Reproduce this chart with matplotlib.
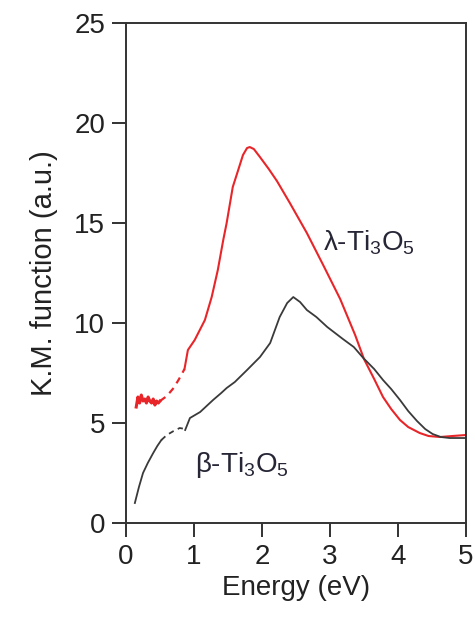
import matplotlib
matplotlib.use("Agg")
import matplotlib.pyplot as plt

plt.rcParams['font.family'] = ['Liberation Sans', 'DejaVu Sans']
plt.rcParams['mathtext.fontset'] = 'custom'
plt.rcParams['mathtext.rm'] = 'Liberation Sans'
plt.rcParams['mathtext.it'] = 'Liberation Sans'

# lambda-Ti3O5 (red)
lam_noisy_E = [0.15, 0.175, 0.2, 0.225, 0.25, 0.275, 0.3, 0.325, 0.35, 0.375, 0.4, 0.425, 0.45, 0.475, 0.5]
lam_noisy_K = [5.8, 6.3, 6.0, 6.4, 6.1, 6.2, 6.0, 6.3, 6.1, 6.0, 6.2, 5.9, 6.1, 6.0, 6.1]
lam_dash_E = [0.5, 0.6, 0.7, 0.78, 0.86]
lam_dash_K = [6.1, 6.35, 6.75, 7.2, 7.7]
lam_E = [0.86, 0.91, 1.01, 1.16, 1.26, 1.35, 1.43, 1.48, 1.57, 1.65, 1.72, 1.78, 1.82, 1.88, 1.97, 2.1, 2.22,
         2.41, 2.66, 2.9, 3.15, 3.37, 3.5, 3.65, 3.78, 3.9, 4.03, 4.15, 4.32, 4.45, 4.62, 4.8, 5.0]
lam_K = [7.7, 8.65, 9.15, 10.15, 11.3, 12.65, 14.15, 15.0, 16.8, 17.65, 18.4, 18.75, 18.8, 18.7, 18.3, 17.7, 17.1,
         16.0, 14.5, 12.9, 11.2, 9.4, 8.2, 7.2, 6.3, 5.7, 5.15, 4.8, 4.5, 4.35, 4.3, 4.35, 4.4]

# beta-Ti3O5 (black)
bet_E1 = [0.13, 0.19, 0.25, 0.32, 0.4, 0.46, 0.52]
bet_K1 = [1.0, 1.8, 2.5, 3.0, 3.5, 3.85, 4.15]
bet_dash_E = [0.52, 0.6, 0.7, 0.79, 0.87]
bet_dash_K = [4.15, 4.4, 4.6, 4.75, 4.7]
bet_E = [0.87, 0.94, 1.09, 1.28, 1.4, 1.48, 1.6, 1.78, 1.97, 2.12, 2.26, 2.37, 2.46,
         2.56, 2.66, 2.8, 2.96, 3.19, 3.35, 3.49, 3.65, 3.78, 3.9, 4.03, 4.15, 4.28, 4.4, 4.51,
         4.63, 4.76, 4.9, 5.0]
bet_K = [4.65, 5.25, 5.55, 6.15, 6.5, 6.75, 7.05, 7.65, 8.3, 9.0, 10.3, 11.0, 11.3,
         11.05, 10.65, 10.3, 9.8, 9.2, 8.8, 8.25, 7.7, 7.15, 6.7, 6.15, 5.6, 5.1, 4.7, 4.45,
         4.3, 4.25, 4.25, 4.25]

red = '#e8262a'
blk = '#3a3a3a'
txtc = '#262636'

fig = plt.figure(figsize=(4.75, 6.23), dpi=100)
ax = fig.add_axes([0.2653, 0.1605, 0.7157, 0.8025])

ax.plot(lam_noisy_E, lam_noisy_K, color=red, lw=2.2)
ax.plot(lam_dash_E, lam_dash_K, color=red, lw=1.6, dashes=(3, 2.5))
ax.plot(lam_E, lam_K, color=red, lw=1.5)

ax.plot(bet_E1, bet_K1, color=blk, lw=1.3)
ax.plot(bet_dash_E, bet_dash_K, color=blk, lw=1.3, dashes=(3, 2.5))
ax.plot(bet_E, bet_K, color=blk, lw=1.3)

ax.set_xlim(0, 5)
ax.set_ylim(0, 25)
ax.set_xticks([0, 1, 2, 3, 4, 5])
ax.set_yticks([0, 5, 10, 15, 20, 25])
ax.tick_params(direction='out', length=10, width=1.3, labelsize=20, colors='#222222',
               top=False, right=False, pad=5)
for s in ax.spines.values():
    s.set_linewidth(1.4)
    s.set_color('#333333')

ax.set_xlabel('Energy (eV)', fontsize=20, color='#222222', labelpad=4)
ax.set_ylabel('K.M. function (a.u.)', fontsize=21, color='#222222', labelpad=12)

ax.text(2.9, 14.0, 'λ-Ti$_3$O$_5$', fontsize=20, color=txtc, va='center', ha='left')
ax.text(1.01, 2.9, 'β-Ti$_3$O$_5$', fontsize=20, color=txtc, va='center', ha='left')

fig.savefig('out.png', dpi=100)
